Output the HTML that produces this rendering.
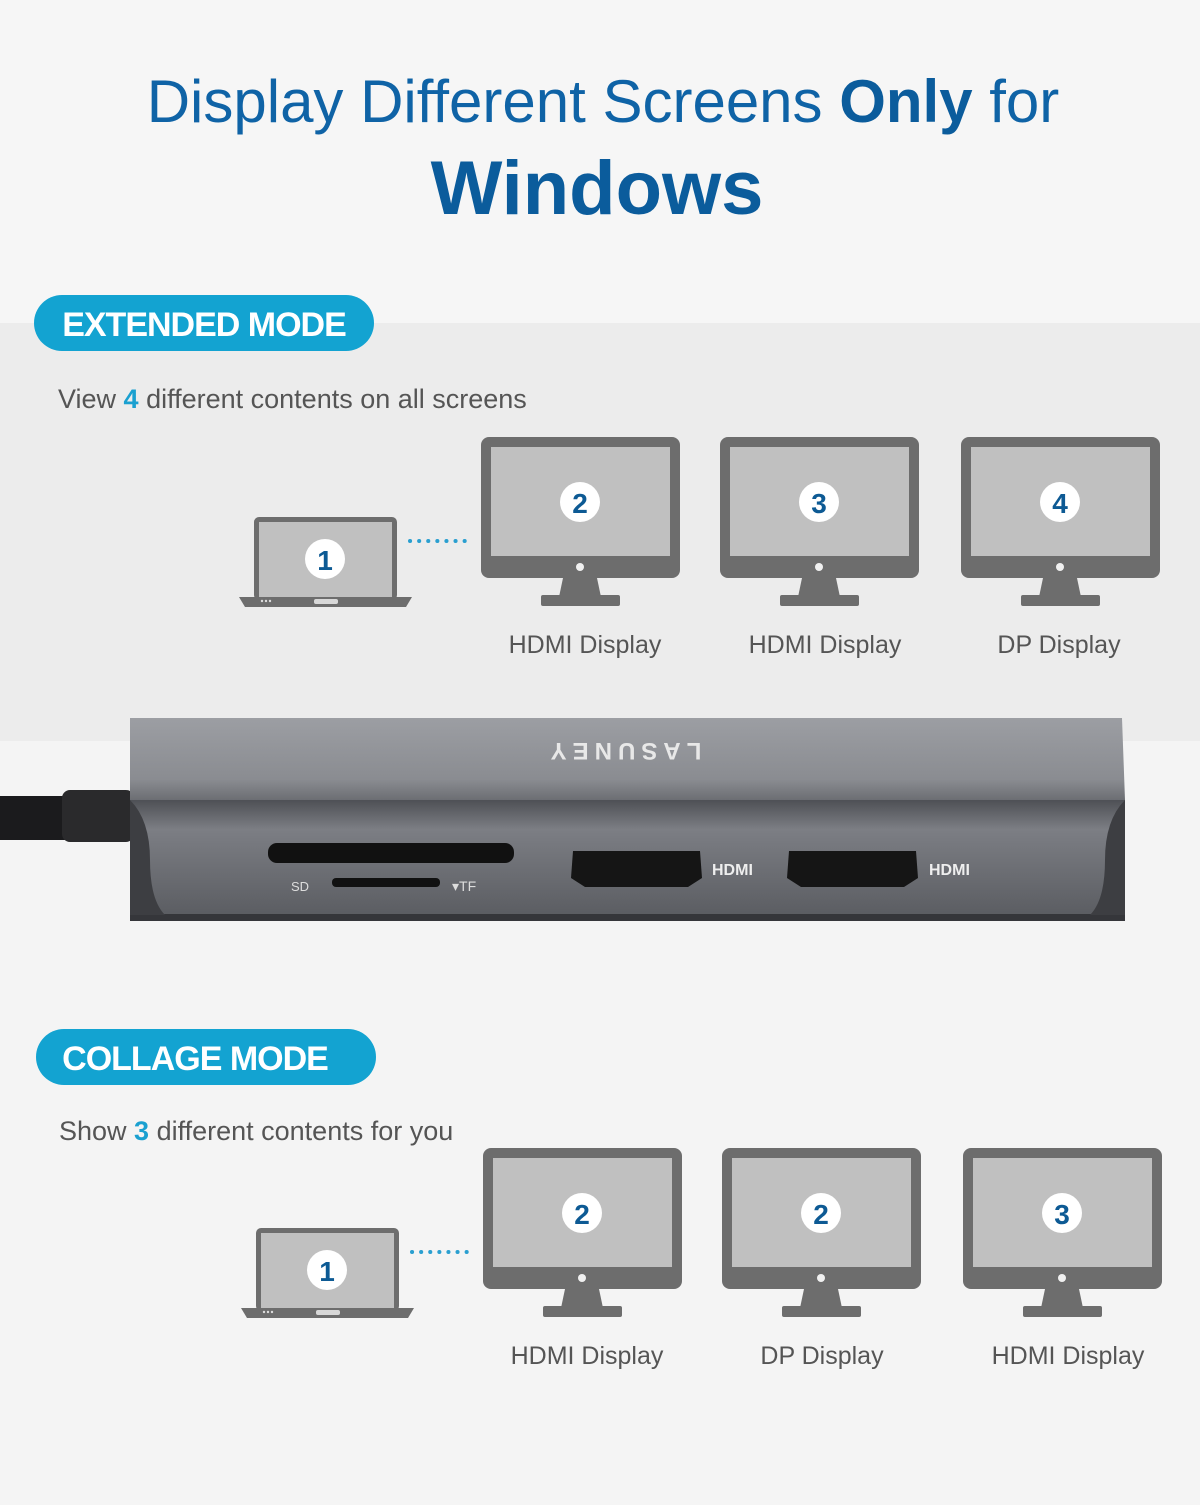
<!DOCTYPE html>
<html><head><meta charset="utf-8">
<style>
html,body{margin:0;padding:0;}
body{width:1200px;height:1500px;background:#f5f5f5;font-family:"Liberation Sans",sans-serif;overflow:hidden;}
</style></head><body>
<svg width="1200" height="1500" viewBox="0 0 1200 1500" xmlns="http://www.w3.org/2000/svg" font-family="Liberation Sans, sans-serif">
<defs>
<g id="mon">
<rect x="0" y="0" width="199" height="141" rx="8" fill="#6d6d6d"/>
<rect x="10" y="10" width="179" height="109" fill="#c0c0c0"/>
<circle cx="99" cy="130" r="4" fill="#f0f0f0"/>
<polygon points="82,141 116,141 120,160 78,160" fill="#6d6d6d"/>
<rect x="60" y="158" width="79" height="11" rx="2" fill="#6d6d6d"/>
<circle cx="99" cy="65" r="20" fill="#fff"/>
</g>
<g id="lap">
<rect x="0" y="0" width="143" height="83" rx="5" fill="#6d6d6d"/>
<rect x="5" y="5" width="133" height="76" fill="#c0c0c0"/>
<polygon points="-15,80 158,80 152,90 -9,90" fill="#6d6d6d"/>
<rect x="60" y="82" width="24" height="5" rx="2" fill="#d8d8d8"/>
<circle cx="8" cy="84" r="1.2" fill="#ddd"/><circle cx="12" cy="84" r="1.2" fill="#ddd"/><circle cx="16" cy="84" r="1.2" fill="#ddd"/>
<circle cx="71" cy="42" r="20" fill="#fff"/>
</g>
<linearGradient id="top" x1="0" y1="0" x2="0" y2="1"><stop offset="0" stop-color="#9c9ea3"/><stop offset="0.75" stop-color="#8a8c91"/><stop offset="1" stop-color="#6c6e73"/></linearGradient>
<linearGradient id="front" x1="0" y1="0" x2="0" y2="1"><stop offset="0" stop-color="#4e5055"/><stop offset="0.25" stop-color="#7c7e84"/><stop offset="1" stop-color="#5a5c61"/></linearGradient>
</defs>
<rect x="0" y="0" width="1200" height="323" fill="#f6f6f6"/>
<rect x="0" y="323" width="1200" height="418" fill="#ececec"/>
<rect x="0" y="741" width="1200" height="759" fill="#f4f4f4"/>

<text x="603" y="122" text-anchor="middle" font-size="60" fill="#0f63a6"><tspan>Display Different Screens </tspan><tspan font-weight="bold" fill="#0b5c9c">Only</tspan><tspan> for</tspan></text>
<text x="597" y="214" text-anchor="middle" font-size="76" font-weight="bold" fill="#0b5c9c">Windows</text>

<!-- Extended -->
<rect x="34" y="295" width="340" height="56" rx="28" fill="#13a3d1"/>
<text x="204" y="336" text-anchor="middle" font-size="34" font-weight="bold" fill="#fff" letter-spacing="-1">EXTENDED MODE</text>
<text x="58" y="408" font-size="27" fill="#555">View <tspan font-weight="bold" fill="#1aa0d0">4</tspan> different contents on all screens</text>

<use href="#lap" x="254" y="517"/>
<text x="325" y="570" text-anchor="middle" font-size="28" font-weight="bold" fill="#0d5a94">1</text>
<line x1="410" y1="541" x2="473" y2="541" stroke="#2a9fd0" stroke-width="4" stroke-linecap="round" stroke-dasharray="0.1 9"/>
<use href="#mon" x="481" y="437"/><text x="580" y="513" text-anchor="middle" font-size="28" font-weight="bold" fill="#0d5a94">2</text>
<use href="#mon" x="720" y="437"/><text x="819" y="513" text-anchor="middle" font-size="28" font-weight="bold" fill="#0d5a94">3</text>
<use href="#mon" x="961" y="437"/><text x="1060" y="513" text-anchor="middle" font-size="28" font-weight="bold" fill="#0d5a94">4</text>
<text x="585" y="653" text-anchor="middle" font-size="25" fill="#555">HDMI Display</text>
<text x="825" y="653" text-anchor="middle" font-size="25" fill="#555">HDMI Display</text>
<text x="1059" y="653" text-anchor="middle" font-size="25" fill="#555">DP Display</text>

<!-- Hub -->
<rect x="0" y="796" width="90" height="44" fill="#1b1b1d"/>
<rect x="62" y="790" width="72" height="52" rx="8" fill="#2a2a2c"/>
<polygon points="130,718 1122,718 1125,800 130,800" fill="url(#top)"/>
<polygon points="130,800 1125,800 1125,918 130,918" fill="url(#front)"/>
<rect x="130" y="914" width="995" height="7" fill="#35363a"/>
<path d="M130,800 Q150,820 150,860 Q150,900 165,915 L130,915 Z" fill="#3d3e42"/>
<path d="M1125,800 Q1105,820 1105,860 Q1105,900 1090,915 L1125,915 Z" fill="#3d3e42"/>
<text x="623" y="761" text-anchor="middle" font-size="24" font-weight="bold" fill="#e8e8e8" letter-spacing="6" transform="rotate(180 623 752)">LASUNEY</text>
<rect x="268" y="843" width="246" height="20" rx="9" fill="#111"/>
<rect x="332" y="878" width="108" height="9" rx="4" fill="#111"/>
<text x="291" y="891" font-size="13" fill="#ddd">SD</text>
<text x="452" y="891" font-size="14" fill="#ddd">▾TF</text>
<polygon points="573,851 700,851 702,878 688,887 585,887 571,878" fill="#151515"/>
<polygon points="789,851 916,851 918,878 904,887 801,887 787,878" fill="#151515"/>
<text x="712" y="875" font-size="16" font-weight="bold" fill="#eee">HDMI</text>
<text x="929" y="875" font-size="16" font-weight="bold" fill="#eee">HDMI</text>

<!-- Collage -->
<rect x="36" y="1029" width="340" height="56" rx="28" fill="#13a3d1"/>
<text x="195" y="1070" text-anchor="middle" font-size="34" font-weight="bold" fill="#fff" letter-spacing="-1">COLLAGE MODE</text>
<text x="59" y="1140" font-size="27" fill="#555">Show <tspan font-weight="bold" fill="#1aa0d0">3</tspan> different contents for you</text>

<use href="#lap" x="256" y="1228"/>
<text x="327" y="1281" text-anchor="middle" font-size="28" font-weight="bold" fill="#0d5a94">1</text>
<line x1="412" y1="1252" x2="475" y2="1252" stroke="#2a9fd0" stroke-width="4" stroke-linecap="round" stroke-dasharray="0.1 9"/>
<use href="#mon" x="483" y="1148"/><text x="582" y="1224" text-anchor="middle" font-size="28" font-weight="bold" fill="#0d5a94">2</text>
<use href="#mon" x="722" y="1148"/><text x="821" y="1224" text-anchor="middle" font-size="28" font-weight="bold" fill="#0d5a94">2</text>
<use href="#mon" x="963" y="1148"/><text x="1062" y="1224" text-anchor="middle" font-size="28" font-weight="bold" fill="#0d5a94">3</text>
<text x="587" y="1364" text-anchor="middle" font-size="25" fill="#555">HDMI Display</text>
<text x="822" y="1364" text-anchor="middle" font-size="25" fill="#555">DP Display</text>
<text x="1068" y="1364" text-anchor="middle" font-size="25" fill="#555">HDMI Display</text>
</svg>
</body></html>
